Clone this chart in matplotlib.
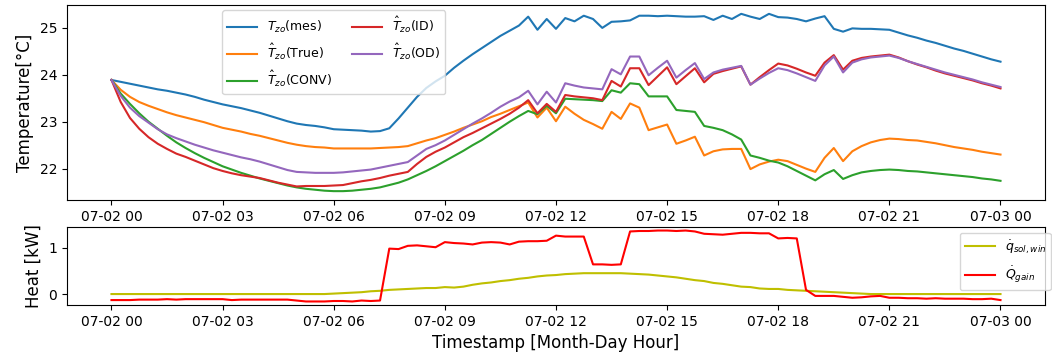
import matplotlib
matplotlib.use("Agg")
import matplotlib.pyplot as plt
import matplotlib.dates as mdates
import pandas as pd

# 15-minute timestamps over one day
start_time = "2019-07-02 00:00"
n_points = 97
freq = "15min"

t_mes = [
    23.89, 23.85, 23.81, 23.77,
    23.73, 23.69, 23.66, 23.62,
    23.58, 23.53, 23.47, 23.42,
    23.37, 23.33, 23.29, 23.24,
    23.19, 23.13, 23.07, 23.01,
    22.96, 22.93, 22.91, 22.88,
    22.84, 22.83, 22.82, 22.81,
    22.79, 22.80, 22.86, 23.07,
    23.30, 23.53, 23.72, 23.86,
    23.98, 24.15, 24.30, 24.44,
    24.57, 24.70, 24.83, 24.94,
    25.05, 25.24, 24.96, 25.19,
    24.98, 25.21, 25.14, 25.26,
    25.19, 25.00, 25.13, 25.14,
    25.16, 25.26, 25.26, 25.25,
    25.26, 25.25, 25.24, 25.24,
    25.25, 25.17, 25.26, 25.19,
    25.30, 25.24, 25.19, 25.30,
    25.23, 25.22, 25.19, 25.14,
    25.20, 25.25, 24.98, 24.92,
    24.99, 24.98, 24.98, 24.97,
    24.96, 24.90, 24.84, 24.79,
    24.73, 24.68, 24.62, 24.56,
    24.51, 24.45, 24.39, 24.33,
    24.28,
]

t_true = [
    23.89, 23.68, 23.53, 23.42,
    23.34, 23.27, 23.20, 23.14,
    23.09, 23.04, 22.99, 22.93,
    22.87, 22.83, 22.79, 22.74,
    22.70, 22.65, 22.60, 22.55,
    22.51, 22.48, 22.46, 22.45,
    22.43, 22.43, 22.43, 22.43,
    22.43, 22.44, 22.45, 22.46,
    22.48, 22.54, 22.60, 22.65,
    22.72, 22.79, 22.87, 22.94,
    23.01, 23.10, 23.17, 23.25,
    23.33, 23.41, 23.09, 23.30,
    23.01, 23.32, 23.17, 23.04,
    22.95, 22.85, 23.21, 23.06,
    23.39, 23.30, 22.82, 22.88,
    22.94, 22.53, 22.60, 22.68,
    22.28, 22.37, 22.41, 22.42,
    22.42, 21.99, 22.09, 22.15,
    22.19, 22.16, 22.08, 22.00,
    21.93, 22.23, 22.44, 22.16,
    22.37, 22.48, 22.56, 22.61,
    22.64, 22.63, 22.61, 22.60,
    22.57, 22.54, 22.50, 22.46,
    22.43, 22.40, 22.36, 22.33,
    22.30,
]

t_conv = [
    23.89, 23.60, 23.38, 23.18,
    23.00, 22.85, 22.70, 22.56,
    22.44, 22.33, 22.23, 22.14,
    22.05, 21.98, 21.91, 21.85,
    21.79, 21.74, 21.69, 21.64,
    21.60, 21.57, 21.55, 21.53,
    21.52, 21.52, 21.53, 21.55,
    21.57, 21.60, 21.65, 21.70,
    21.77, 21.86, 21.95, 22.05,
    22.16, 22.27, 22.38, 22.50,
    22.61, 22.74, 22.87, 23.00,
    23.12, 23.23, 23.16, 23.34,
    23.18, 23.49, 23.48, 23.47,
    23.46, 23.44, 23.67, 23.62,
    23.82, 23.80, 23.54, 23.54,
    23.54, 23.25, 23.23, 23.21,
    22.91, 22.87, 22.82, 22.73,
    22.62, 22.28, 22.23, 22.17,
    22.13, 22.05, 21.95, 21.85,
    21.75, 21.88, 21.97, 21.78,
    21.86, 21.92, 21.95, 21.97,
    21.98, 21.97, 21.95, 21.94,
    21.92, 21.90, 21.88, 21.86,
    21.84, 21.82, 21.79, 21.77,
    21.74,
]

t_id = [
    23.89, 23.42, 23.08, 22.85,
    22.67, 22.53, 22.42, 22.32,
    22.25, 22.17, 22.09, 22.01,
    21.95, 21.90, 21.86, 21.83,
    21.80, 21.75, 21.70, 21.66,
    21.62, 21.63, 21.63, 21.63,
    21.64, 21.65, 21.69, 21.73,
    21.76, 21.80, 21.85, 21.89,
    21.93, 22.10, 22.25, 22.36,
    22.45, 22.56, 22.67, 22.76,
    22.86, 22.96, 23.06, 23.17,
    23.30, 23.46, 23.18, 23.38,
    23.21, 23.57, 23.54, 23.52,
    23.50, 23.46, 23.87, 23.75,
    24.14, 24.14, 23.78, 23.97,
    24.16, 23.80, 23.97, 24.14,
    23.84, 24.02, 24.08, 24.13,
    24.18, 23.79, 23.95, 24.10,
    24.24, 24.20, 24.13, 24.05,
    23.98, 24.26, 24.42, 24.11,
    24.30, 24.36, 24.39, 24.41,
    24.43, 24.37, 24.29, 24.22,
    24.16, 24.09, 24.03, 23.98,
    23.93, 23.88, 23.82, 23.77,
    23.71,
]

t_od = [
    23.89, 23.55, 23.30, 23.12,
    22.98, 22.84, 22.73, 22.65,
    22.58, 22.51, 22.45, 22.39,
    22.34, 22.29, 22.24, 22.20,
    22.15, 22.09, 22.03, 21.97,
    21.93, 21.92, 21.91, 21.91,
    21.91, 21.92, 21.94, 21.96,
    21.98, 22.02, 22.06, 22.10,
    22.14, 22.28, 22.42, 22.50,
    22.60, 22.72, 22.84, 22.96,
    23.07, 23.19, 23.32, 23.43,
    23.52, 23.66, 23.37, 23.64,
    23.41, 23.82, 23.77, 23.73,
    23.71, 23.69, 24.12, 24.01,
    24.39, 24.39, 23.99, 24.15,
    24.30, 23.94, 24.10, 24.25,
    23.91, 24.05, 24.11, 24.15,
    24.19, 23.79, 23.92, 24.04,
    24.14, 24.10, 24.03, 23.95,
    23.87, 24.20, 24.39, 24.05,
    24.26, 24.33, 24.37, 24.39,
    24.41, 24.36, 24.29, 24.23,
    24.17, 24.11, 24.05, 24.00,
    23.95, 23.90, 23.84, 23.79,
    23.74,
]

q_sol_win = [
    0.00, 0.00, 0.00, 0.00,
    0.00, 0.00, 0.00, 0.00,
    0.00, 0.00, 0.00, 0.00,
    0.00, 0.00, 0.00, 0.00,
    0.00, 0.00, 0.00, 0.00,
    0.00, 0.00, 0.00, 0.00,
    0.01, 0.02, 0.03, 0.04,
    0.06, 0.07, 0.09, 0.10,
    0.11, 0.12, 0.13, 0.13,
    0.15, 0.14, 0.16, 0.20,
    0.23, 0.25, 0.28, 0.30,
    0.33, 0.35, 0.38, 0.40,
    0.41, 0.43, 0.44, 0.45,
    0.45, 0.45, 0.45, 0.45,
    0.44, 0.43, 0.42, 0.40,
    0.38, 0.36, 0.33, 0.30,
    0.28, 0.24, 0.22, 0.19,
    0.16, 0.15, 0.12, 0.11,
    0.11, 0.09, 0.08, 0.07,
    0.06, 0.05, 0.04, 0.03,
    0.02, 0.01, 0.00, 0.00,
    0.00, 0.00, 0.00, 0.00,
    0.00, 0.00, 0.00, 0.00,
    0.00, 0.00, 0.00, 0.00,
    0.00,
]

q_gain = [
    -0.13, -0.13, -0.13, -0.12,
    -0.12, -0.12, -0.11, -0.12,
    -0.11, -0.11, -0.11, -0.11,
    -0.11, -0.13, -0.12, -0.12,
    -0.12, -0.12, -0.12, -0.12,
    -0.14, -0.16, -0.16, -0.16,
    -0.15, -0.15, -0.16, -0.14,
    -0.15, -0.14, 0.98, 0.97,
    1.04, 1.05, 1.03, 1.01,
    1.12, 1.10, 1.09, 1.07,
    1.11, 1.12, 1.11, 1.07,
    1.13, 1.14, 1.14, 1.15,
    1.26, 1.24, 1.24, 1.24,
    0.64, 0.64, 0.63, 0.64,
    1.35, 1.36, 1.36, 1.37,
    1.37, 1.36, 1.37, 1.35,
    1.30, 1.29, 1.28, 1.30,
    1.32, 1.32, 1.31, 1.31,
    1.20, 1.21, 1.20, 0.09,
    -0.04, -0.04, -0.04, -0.06,
    -0.08, -0.07, -0.05, -0.04,
    -0.08, -0.08, -0.09, -0.09,
    -0.10, -0.09, -0.10, -0.10,
    -0.10, -0.11, -0.11, -0.10,
    -0.13,
]

temp_labels = [r"$T_{zo}$(mes)", r"$\hat{T}_{zo}$(True)", r"$\hat{T}_{zo}$(CONV)",
               r"$\hat{T}_{zo}$(ID)", r"$\hat{T}_{zo}$(OD)"]
heat_labels = [r"$\dot{q}_{sol,win}$", r"$\dot{Q}_{gain}$"]

times = pd.date_range(start_time, periods=n_points, freq=freq)

fig = plt.figure(figsize=(10.52, 3.55), dpi=100)
ax1 = fig.add_axes([0.0637, 0.4366, 0.9296, 0.5494])
ax2 = fig.add_axes([0.0637, 0.1408, 0.9296, 0.2198], sharex=ax1)

for series, lab, col in zip([t_mes, t_true, t_conv, t_id, t_od], temp_labels,
                            ["C0", "C1", "C2", "C3", "C4"]):
    ax1.plot(times, series, color=col, label=lab, lw=1.5)

ax2.plot(times, q_sol_win, color="y", label=heat_labels[0], lw=1.5)
ax2.plot(times, q_gain, color="r", label=heat_labels[1], lw=1.5)

ax1.set_ylabel("Temperature[°C]", fontsize=12)
ax2.set_ylabel("Heat [kW]", fontsize=12)
ax2.set_xlabel("Timestamp [Month-Day Hour]", fontsize=12)

ax1.set_yticks([22, 23, 24, 25])
ax2.set_yticks([0, 1])

for ax in (ax1, ax2):
    ax.xaxis.set_major_locator(mdates.HourLocator(byhour=range(0, 24, 3)))
    ax.xaxis.set_major_formatter(mdates.DateFormatter("%m-%d %H"))
    ax.tick_params(labelsize=10)
    ax.tick_params(axis="x", labelbottom=True)

ax1.legend(ncol=2, loc="upper left", bbox_to_anchor=(0.1585, 0.974),
           borderaxespad=0, fontsize=9, handlelength=2.4, columnspacing=1.6,
           labelspacing=0.55)
ax2.legend(loc="upper right", bbox_to_anchor=(0.999, 0.3437),
           bbox_transform=fig.transFigure, borderaxespad=0, fontsize=9,
           handlelength=2.4, labelspacing=0.7)

fig.savefig("out.png", dpi=100)
